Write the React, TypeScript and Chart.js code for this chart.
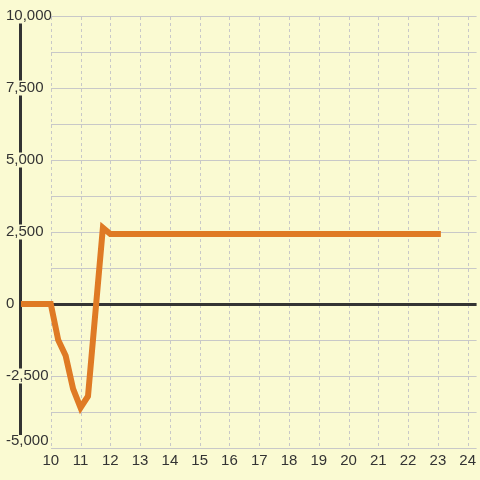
import React, { useEffect, useRef } from 'react';
import { Chart, registerables } from 'chart.js';

Chart.register(...registerables);

// ---- data ----
const xValues = [9, 10, 10.25, 10.5, 10.75, 11, 11.25, 11.75, 12, 23];
const yValues = [0, 0, -1250, -1800, -2950, -3600, -3200, 2650, 2430, 2430];

const xTickValues = [10, 11, 12, 13, 14, 15, 16, 17, 18, 19, 20, 21, 22, 23, 24];
const yTickValues = [-5000, -2500, 0, 2500, 5000, 7500, 10000];
const yGridValues = [-5000, -3750, -2500, -1250, 0, 1250, 2500, 3750, 5000, 6250, 7500, 8750, 10000];

const X_MIN = 9;
const X_MAX = 24.3;
const Y_MIN = -5000;
const Y_MAX = 10000;

// ---- styles ----
const BG = '#FAFAD2';
const GRID = '#c8c8c8';
const DARK = '#333333';
const LINE = '#df7a24';
const FONT = '"Liberation Sans", Arial, sans-serif';

const fmt = (v: number) => v.toLocaleString('en-US');

const gridPlugin = {
  id: 'customGrid',
  beforeDraw(chart: any) {
    const { ctx, chartArea } = chart;
    ctx.save();
    ctx.fillStyle = BG;
    ctx.fillRect(0, 0, chart.width, chart.height);
    // y axis line (labels with backdrop are drawn over it)
    const ax = Math.round(chart.scales.x.getPixelForValue(X_MIN)) - 0.5;
    ctx.strokeStyle = DARK;
    ctx.lineWidth = 3;
    ctx.beginPath();
    ctx.moveTo(ax, chartArea.top);
    ctx.lineTo(ax, chartArea.bottom - 13);
    ctx.stroke();
    ctx.restore();
  },
  beforeDatasetsDraw(chart: any) {
    const { ctx, chartArea } = chart;
    const xs = chart.scales.x;
    const ys = chart.scales.y;
    const left = Math.round(xs.getPixelForValue(xTickValues[0]));
    ctx.save();
    // vertical dashed
    ctx.strokeStyle = GRID;
    ctx.lineWidth = 1;
    ctx.setLineDash([3, 3]);
    for (const v of xTickValues) {
      const px = Math.round(xs.getPixelForValue(v)) + 0.5;
      ctx.beginPath();
      ctx.moveTo(px, chartArea.top + 1);
      ctx.lineTo(px, chartArea.bottom);
      ctx.stroke();
    }
    ctx.setLineDash([]);
    // horizontal
    for (const v of yGridValues) {
      if (v === 0) continue;
      const py = Math.round(ys.getPixelForValue(v)) + 0.5;
      ctx.beginPath();
      ctx.moveTo(left, py);
      ctx.lineTo(chartArea.right, py);
      ctx.stroke();
    }
    // zero line
    const pz = Math.round(ys.getPixelForValue(0)) + 0.5;
    ctx.strokeStyle = DARK;
    ctx.lineWidth = 3;
    ctx.beginPath();
    ctx.moveTo(left, pz);
    ctx.lineTo(chartArea.right, pz);
    ctx.stroke();
    ctx.restore();
  },
};

export default function App() {
  const ref = useRef<HTMLCanvasElement | null>(null);

  useEffect(() => {
    if (!ref.current) return;
    const chart = new Chart(ref.current, {
      type: 'line',
      data: {
        datasets: [
          {
            data: xValues.map((x, i) => ({ x, y: yValues[i] })),
            borderColor: LINE,
            backgroundColor: LINE,
            borderWidth: 6,
            pointRadius: 0,
            tension: 0,
            borderCapStyle: 'square',
            borderJoinStyle: 'miter',
            fill: false,
          },
        ],
      },
      options: {
        animation: false,
        responsive: false,
        events: [],
        layout: { padding: { top: 16, left: 0, right: 0, bottom: 0 } },
        plugins: { legend: { display: false }, tooltip: { enabled: false } },
        scales: {
          x: {
            type: 'linear',
            min: X_MIN,
            max: X_MAX,
            grid: { display: false, drawTicks: false },
            border: { display: false },
            afterBuildTicks: (scale: any) => {
              scale.ticks = xTickValues.map((v) => ({ value: v }));
            },
            afterFit: (scale: any) => {
              scale.height = 32;
            },
            ticks: {
              autoSkip: false,
              maxRotation: 0,
              padding: 4,
              color: DARK,
              font: { family: FONT, size: 15 },
              callback: (v: any) => String(v),
            },
          },
          y: {
            type: 'linear',
            min: Y_MIN,
            max: Y_MAX,
            grid: { display: false, drawTicks: false },
            border: { display: false },
            afterBuildTicks: (scale: any) => {
              scale.ticks = yTickValues.map((v) => ({ value: v }));
            },
            afterFit: (scale: any) => {
              scale.width = 21;
            },
            ticks: {
              autoSkip: false,
              mirror: true,
              crossAlign: 'near',
              padding: -15,
              color: DARK,
              font: { family: FONT, size: 15, lineHeight: 1 },
              showLabelBackdrop: (c: any) => !(c.tick && c.tick.value === Y_MIN),
              backdropColor: BG,
              backdropPadding: 0,
              callback: (v: any) => (v === Y_MIN ? [fmt(v), ''] : fmt(v)),
            },
          },
        },
      } as any,
      plugins: [gridPlugin],
    });
    return () => chart.destroy();
  }, []);

  return (
    <div style={{ position: 'fixed', left: 0, top: 0, width: 480, height: 480, background: BG }}>
      <canvas ref={ref} width={480} height={480} style={{ display: 'block', width: 480, height: 480 }} />
    </div>
  );
}
